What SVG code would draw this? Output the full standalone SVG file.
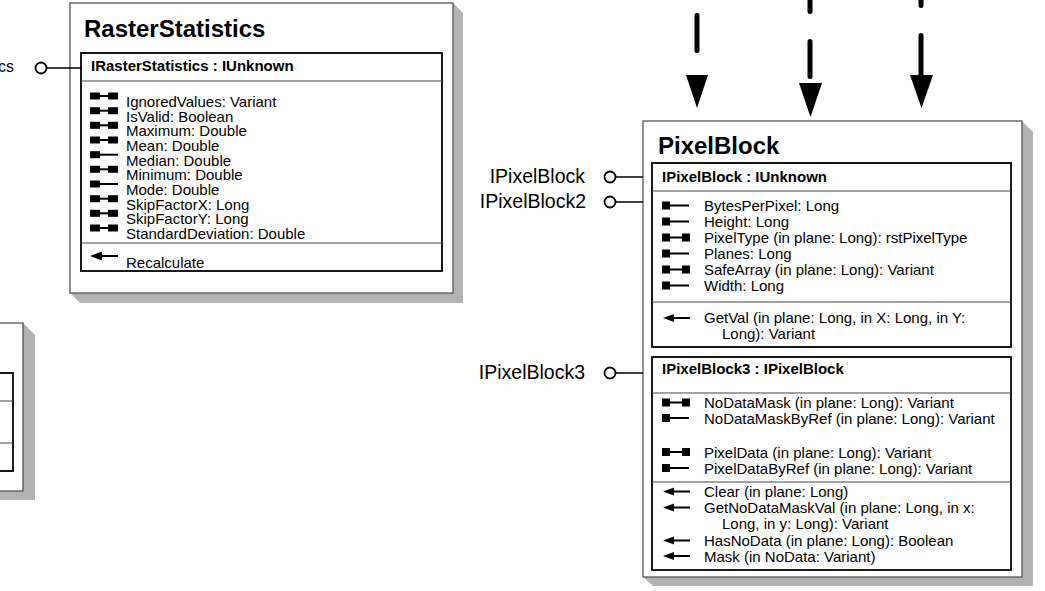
<svg xmlns="http://www.w3.org/2000/svg" width="1045" height="591" viewBox="0 0 1045 591">
<defs>
<style>
.outer{fill:#fff;stroke:#555;stroke-width:1.3}
.shadow{fill:#b3b3b3;stroke:none}
.inner{fill:#fff;stroke:#000;stroke-width:1.8}
.sep{stroke:#444;stroke-width:1.2}
.title{font-family:"Liberation Sans",Arial,sans-serif;font-weight:bold;font-size:24px;fill:#000}
.hdr{font-family:"Liberation Sans",Arial,sans-serif;font-weight:bold;font-size:15px;fill:#000}
.txt{font-family:"Liberation Sans",Arial,sans-serif;font-size:15px;fill:#000}
.lbl{font-family:"Liberation Sans",Arial,sans-serif;font-size:19.5px;fill:#000}
.lolli{fill:#fff;stroke:#000;stroke-width:1.8}
.lline{stroke:#000;stroke-width:1.5}
.dash{stroke:#000;stroke-width:5;stroke-linecap:round;fill:none}
</style>
<g id="prw">
<rect x="0" y="-4" width="8" height="8" fill="#000"/>
<line x1="8" y1="0" x2="20" y2="0" stroke="#000" stroke-width="2"/>
<rect x="20" y="-4" width="8" height="8" fill="#000"/>
</g>
<g id="pr">
<rect x="0" y="-4" width="8" height="8" fill="#000"/>
<line x1="8" y1="0" x2="27" y2="0" stroke="#000" stroke-width="2"/>
</g>
<g id="mth">
<polygon points="0,0 11,-4 11,4" fill="#000"/>
<line x1="10" y1="0" x2="27" y2="0" stroke="#000" stroke-width="2"/>
</g>
<g id="rprw">
<rect x="0" y="-3.5" width="10" height="7" fill="#000"/>
<line x1="10" y1="0" x2="18" y2="0" stroke="#000" stroke-width="2"/>
<rect x="18" y="-3.5" width="10" height="7" fill="#000"/>
</g>
<g id="rpr">
<rect x="0" y="-3.5" width="10" height="7" fill="#000"/>
<line x1="10" y1="0" x2="28" y2="0" stroke="#000" stroke-width="2"/>
</g>
<g id="rmth">
<polygon points="0,0 12,-4.5 12,4.5" fill="#000"/>
<line x1="11" y1="0" x2="28" y2="0" stroke="#000" stroke-width="2"/>
</g>
</defs>
<rect width="1045" height="591" fill="#fff"/>

<g id="leftbox">
<polygon class="shadow" points="23,323 35,335 35,500 -10,500"/>
<rect class="outer" x="-20" y="323" width="43" height="168"/>
<rect class="inner" x="-20" y="373" width="33" height="98"/>
<line class="sep" x1="-20" y1="401" x2="13" y2="401"/>
<line class="sep" x1="-20" y1="443" x2="13" y2="443"/>
</g>

<g id="RasterStatistics">
<polygon class="shadow" points="453,3 463,13 463,303 80,303 70,293"/>
<rect class="outer" x="70" y="3" width="383" height="290"/>
<text class="title" x="84" y="37">RasterStatistics</text>
<rect class="inner" x="81" y="53" width="361" height="218"/>
<text class="hdr" x="91" y="71">IRasterStatistics : IUnknown</text>
<line class="sep" x1="81" y1="81" x2="442" y2="81"/>
<use href="#rprw" x="90" y="96"/>
<use href="#rprw" x="90" y="110.7"/>
<use href="#rprw" x="90" y="125.3"/>
<use href="#rprw" x="90" y="140"/>
<use href="#rpr" x="90" y="154.7"/>
<use href="#rprw" x="90" y="169.3"/>
<use href="#rpr" x="90" y="184"/>
<use href="#rprw" x="90" y="198.7"/>
<use href="#rprw" x="90" y="213.3"/>
<use href="#rprw" x="90" y="228"/>
<text class="txt" x="126" y="107">IgnoredValues: Variant</text>
<text class="txt" x="126" y="121.7">IsValid: Boolean</text>
<text class="txt" x="126" y="136.3">Maximum: Double</text>
<text class="txt" x="126" y="151">Mean: Double</text>
<text class="txt" x="126" y="165.7">Median: Double</text>
<text class="txt" x="126" y="180.3">Minimum: Double</text>
<text class="txt" x="126" y="195">Mode: Double</text>
<text class="txt" x="126" y="209.7">SkipFactorX: Long</text>
<text class="txt" x="126" y="224.3">SkipFactorY: Long</text>
<text class="txt" x="126" y="239">StandardDeviation: Double</text>
<line class="sep" x1="81" y1="243" x2="442" y2="243"/>
<use href="#rmth" x="90" y="256"/>
<text class="txt" x="126" y="268">Recalculate</text>
</g>

<g id="RasterStatistics-iface">
<text class="lbl" x="14" y="72" text-anchor="end" style="font-size:16px">cs</text>
<line class="lline" x1="47" y1="68" x2="81" y2="68"/>
<circle class="lolli" cx="41" cy="68" r="5.5"/>
</g>

<g id="PixelBlock">
<polygon class="shadow" points="1022,121 1033,132 1033,586 653,586 643,577"/>
<rect class="outer" x="643" y="121" width="379" height="456"/>
<text class="title" x="658" y="154">PixelBlock</text>
<rect class="inner" x="652" y="163" width="359" height="184"/>
<text class="hdr" x="662" y="182">IPixelBlock : IUnknown</text>
<line class="sep" x1="652" y1="191" x2="1011" y2="191"/>
<use href="#pr" x="662" y="205.5"/>
<use href="#pr" x="662" y="221.5"/>
<use href="#prw" x="662" y="237.5"/>
<use href="#pr" x="662" y="253.5"/>
<use href="#prw" x="662" y="269.5"/>
<use href="#pr" x="662" y="285.5"/>
<text class="txt" x="704" y="211">BytesPerPixel: Long</text>
<text class="txt" x="704" y="227">Height: Long</text>
<text class="txt" x="704" y="243">PixelType (in plane: Long): rstPixelType</text>
<text class="txt" x="704" y="259">Planes: Long</text>
<text class="txt" x="704" y="275">SafeArray (in plane: Long): Variant</text>
<text class="txt" x="704" y="291">Width: Long</text>
<line class="sep" x1="652" y1="302" x2="1011" y2="302"/>
<use href="#mth" x="663" y="318"/>
<text class="txt" x="704" y="323">GetVal (in plane: Long, in X: Long, in Y:</text>
<text class="txt" x="722" y="339">Long): Variant</text>

<rect class="inner" x="652" y="357" width="359" height="213"/>
<text class="hdr" x="662" y="374">IPixelBlock3 : IPixelBlock</text>
<line class="sep" x1="652" y1="393" x2="1011" y2="393"/>
<use href="#prw" x="662" y="402.5"/>
<use href="#pr" x="662" y="418"/>
<use href="#prw" x="662" y="452"/>
<use href="#pr" x="662" y="468"/>
<text class="txt" x="704" y="408">NoDataMask (in plane: Long): Variant</text>
<text class="txt" x="704" y="423.5">NoDataMaskByRef (in plane: Long): Variant</text>
<text class="txt" x="704" y="457.5">PixelData (in plane: Long): Variant</text>
<text class="txt" x="704" y="473.5">PixelDataByRef (in plane: Long): Variant</text>
<line class="sep" x1="652" y1="482" x2="1011" y2="482"/>
<use href="#mth" x="663" y="491.5"/>
<use href="#mth" x="663" y="507.5"/>
<use href="#mth" x="663" y="540.5"/>
<use href="#mth" x="663" y="556"/>
<text class="txt" x="704" y="497">Clear (in plane: Long)</text>
<text class="txt" x="704" y="513">GetNoDataMaskVal (in plane: Long, in x:</text>
<text class="txt" x="722" y="529">Long, in y: Long): Variant</text>
<text class="txt" x="704" y="546">HasNoData (in plane: Long): Boolean</text>
<text class="txt" x="704" y="561.5">Mask (in NoData: Variant)</text>
</g>

<g id="PixelBlock-ifaces">
<text class="lbl" x="585" y="183" text-anchor="end">IPixelBlock</text>
<line class="lline" x1="616" y1="177" x2="643" y2="177"/>
<circle class="lolli" cx="610" cy="177" r="5.5"/>
<text class="lbl" x="586" y="208" text-anchor="end">IPixelBlock2</text>
<line class="lline" x1="616" y1="202" x2="643" y2="202"/>
<circle class="lolli" cx="610" cy="202" r="5.5"/>
<text class="lbl" x="585" y="379" text-anchor="end">IPixelBlock3</text>
<line class="lline" x1="616" y1="373" x2="643" y2="373"/>
<circle class="lolli" cx="610" cy="373" r="5.5"/>
</g>

<g id="connectors">
<path class="dash" d="M697,15.5 V50.5"/>
<polygon points="686,75 708,75 697,108"/>
<path class="dash" d="M810,-5 V11.5 M810,41.5 V76.5"/>
<polygon points="799,83 822,83 810.5,117"/>
<path class="dash" d="M921,-5 V5.5 M921,35.5 V76"/>
<polygon points="910,75 933,75 921.5,108"/>
</g>
</svg>
